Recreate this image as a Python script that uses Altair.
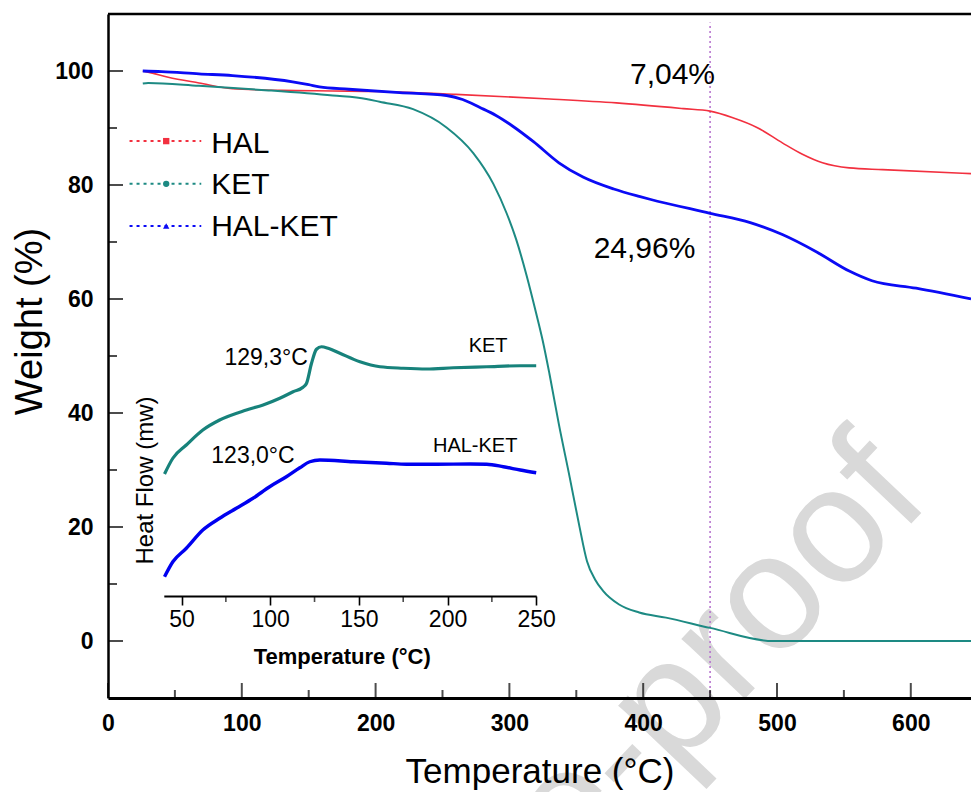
import altair as alt
import pandas as pd

FONT = "Liberation Sans"

# ---------------- TGA curves: temperature (°C) vs residual weight (%) ----------------
hal_temp = [26, 30, 45, 68, 93, 130, 168, 203, 260, 330, 380, 430, 450, 467, 485, 504, 519, 534, 554, 579, 645]
hal_weight = [100.0, 99.8, 98.9, 97.9, 96.9, 96.6, 96.5, 96.4, 95.9, 95.1, 94.4, 93.4, 92.96, 91.8, 90.1, 87.4,
              85.4, 83.9, 83.0, 82.7, 82.0]

ket_temp = [26, 30, 68, 120, 168, 193, 203, 228, 253, 273, 288, 298, 305, 313, 320, 325, 330, 337, 345, 352,
            358, 364, 370, 382, 397, 417, 450, 497, 645]
ket_weight = [97.8, 97.9, 97.4, 96.6, 95.7, 95.1, 94.6, 93.3, 90.1, 85.6, 80.2, 75.0, 70.5, 64.0, 57.5, 52.6,
              46.8, 38.0, 28.8, 20.5, 14.0, 10.8, 8.8, 6.4, 5.0, 4.1, 2.3, 0.0, 0.0]

halket_temp = [26, 40, 68, 93, 138, 150, 158, 180, 218, 253, 265, 278, 290, 302, 318, 337, 355, 378, 397, 405,
               450, 480, 504, 530, 554, 571, 604, 645]
halket_weight = [100.0, 99.9, 99.5, 99.2, 98.1, 97.6, 97.2, 96.8, 96.2, 95.7, 95.0, 93.6, 92.2, 90.4, 87.6, 83.9,
                 81.4, 79.3, 78.0, 77.5, 75.04, 73.4, 71.3, 68.2, 64.9, 63.2, 61.9, 60.0]

# ---------------- DSC inset: temperature (°C) vs heat flow (arbitrary mW units) ----------------
dsc_ket_temp = [40.4, 45.1, 52.7, 62.0, 71.5, 86.6, 96.0, 105.4, 112.9, 118.5, 120.5, 123.3, 126.1, 128.9,
                132.7, 139.3, 150.6, 161.9, 175.0, 188.2, 203.3, 222.1, 241.0, 250.0]
dsc_ket_flow = [4.88, 5.51, 6.04, 6.64, 7.04, 7.44, 7.64, 7.91, 8.17, 8.35, 8.51, 9.31, 9.87, 9.97, 9.91, 9.71,
                9.37, 9.17, 9.11, 9.08, 9.13, 9.17, 9.21, 9.21]

dsc_halket_temp = [40.4, 45.1, 52.7, 62.0, 71.5, 80.9, 90.3, 99.7, 109.1, 116.7, 122.3, 128.0, 146.8, 165.6,
                   176.9, 193.9, 212.7, 222.1, 231.5, 241.0, 250.0]
dsc_halket_flow = [0.77, 1.37, 1.91, 2.64, 3.11, 3.51, 3.91, 4.37, 4.77, 5.13, 5.37, 5.44, 5.37, 5.31, 5.27,
                   5.27, 5.28, 5.27, 5.17, 5.04, 4.93]

# ---------------- axis ticks ----------------
x_major = [0, 100, 200, 300, 400, 500, 600]
x_minor = [50, 150, 250, 350, 450, 550]
y_major = [0, 20, 40, 60, 80, 100]
y_minor = [10, 30, 50, 70, 90]
inset_major = [50, 100, 150, 200, 250]
inset_minor = [75, 125, 175, 225]

T_MIN, T_MAX = 0, 645
W_MIN, W_MAX = -10, 110

RED, TEAL, BLUE = "#f2303f", "#1d8a83", "#0b0bf5"

x_scale = alt.Scale(domain=[T_MIN, T_MAX], nice=False, zero=False)
y_scale = alt.Scale(domain=[W_MIN, W_MAX], nice=False, zero=False)

x_axis = alt.Axis(
    values=x_major, ticks=False, tickSize=0, grid=False, zindex=1,
    domainColor="black", domainWidth=3, labelFlush=False, labelOverlap=False,
    labelFont=FONT, labelFontSize=23, labelFontWeight="bold", labelColor="black", labelPadding=14,
    title="Temperature (°C)", titleFont=FONT, titleFontSize=35, titleFontWeight="normal",
    titleColor="black", titlePadding=19,
)
y_axis = alt.Axis(
    values=y_major, ticks=False, tickSize=0, grid=False, zindex=1,
    domainColor="black", domainWidth=2.5, labelFlush=False, labelOverlap=False,
    labelFont=FONT, labelFontSize=23, labelFontWeight="bold", labelColor="black", labelPadding=15,
    title="Weight (%)", titleFont=FONT, titleFontSize=38, titleFontWeight="normal", titleColor="black",
    titleX=-67, titleY=307, titleBaseline="alphabetic",
)


def X():
    return alt.X("T:Q", scale=x_scale, axis=x_axis)


def Y():
    return alt.Y("W:Q", scale=y_scale, axis=y_axis)


def frame(t, w):
    return pd.DataFrame({"T": t, "W": w})


# Watermark across the lower right
watermark = alt.Chart(frame([288.5], [-56.5])).mark_text(
    text="Journal Pre-proof", font=FONT, fontSize=165, color="#d9d9d9",
    angle=313.5, align="center", baseline="alphabetic",
).encode(x=X(), y=Y())

# Dotted marker at 450 °C
vline = alt.Chart(pd.DataFrame({"T": [450], "W": [W_MIN], "W2": [108.5]})).mark_rule(
    color="#b875cf", strokeWidth=1.6, strokeDash=[2, 3]
).encode(x=X(), y=Y(), y2="W2:Q")

curves = []
for t, w, col, sw in [(hal_temp, hal_weight, RED, 1.6),
                      (ket_temp, ket_weight, TEAL, 2.0),
                      (halket_temp, halket_weight, BLUE, 2.8)]:
    curves.append(
        alt.Chart(frame(t, w)).mark_line(color=col, strokeWidth=sw, interpolate="monotone")
        .encode(x=X(), y=Y())
    )

# Inward tick marks on the main axes
ticks = [
    alt.Chart(frame(x_major, [W_MIN] * len(x_major))).mark_tick(
        orient="vertical", size=15, thickness=2, yOffset=-7.5, color="black").encode(x=X(), y=Y()),
    alt.Chart(frame(x_minor, [W_MIN] * len(x_minor))).mark_tick(
        orient="vertical", size=8, thickness=2, yOffset=-4, color="black").encode(x=X(), y=Y()),
    alt.Chart(frame([T_MIN] * len(y_major), y_major)).mark_tick(
        orient="horizontal", size=15, thickness=2, xOffset=7.5, color="black").encode(x=X(), y=Y()),
    alt.Chart(frame([T_MIN] * len(y_minor), y_minor)).mark_tick(
        orient="horizontal", size=9, thickness=2, xOffset=4.5, color="black").encode(x=X(), y=Y()),
]

# Top frame line
top_line = alt.Chart(pd.DataFrame({"T": [T_MIN], "T2": [T_MAX], "W": [W_MAX]})).mark_rule(
    color="black", strokeWidth=2.5
).encode(x=X(), x2="T2:Q", y=Y())

# Mass-loss annotations
notes = alt.Chart(pd.DataFrame({
    "T": [421.9, 401.0], "W": [97.7, 67.2], "label": ["7,04%", "24,96%"]
})).mark_text(font=FONT, fontSize=30, color="black", align="center", baseline="alphabetic").encode(
    x=X(), y=Y(), text="label:N")

# Legend (dotted sample line + marker + name)
legend_names = ["HAL", "KET", "HAL-KET"]
legend_colors = [RED, TEAL, BLUE]
legend_shapes = ["square", "circle", "triangle-up"]
LEG_T0, LEG_T1, LEG_MARK, LEG_TEXT = 16.1, 69.7, 43.5, 77.1
LEG_ROWS = [87.7, 80.2, 72.8]
LEG_BASE = [85.7, 78.4, 71.1]

legend = []
for name, col, shp, row, base in zip(legend_names, legend_colors, legend_shapes, LEG_ROWS, LEG_BASE):
    legend.append(alt.Chart(pd.DataFrame({"T": [LEG_T0], "T2": [LEG_T1], "W": [row]})).mark_rule(
        color=col, strokeWidth=2, strokeDash=[3, 4]).encode(x=X(), x2="T2:Q", y=Y()))
    legend.append(alt.Chart(frame([LEG_MARK], [row])).mark_point(
        shape=shp, filled=True, color=col, size=40, opacity=1).encode(x=X(), y=Y()))
    legend.append(alt.Chart(pd.DataFrame({"T": [LEG_TEXT], "W": [base], "label": [name]})).mark_text(
        font=FONT, fontSize=30, color="black", align="left", baseline="alphabetic").encode(
        x=X(), y=Y(), text="label:N"))

main = alt.layer(watermark, vline, *curves, *ticks, top_line, notes, *legend)

# ---------------- DSC inset ----------------
ix_scale = alt.Scale(domain=[40, 250], range=[55.8, 428.2], nice=False, zero=False)
iy_scale = alt.Scale(domain=[0, 10], range=[582, 332], nice=False, zero=False)

ix_axis = alt.Axis(
    orient="bottom", offset=-102, values=inset_major, grid=False,
    domainColor="black", domainWidth=2, tickColor="black", tickSize=9, tickWidth=1.6,
    labelFlush=False, labelOverlap=False, labelFont=FONT, labelFontSize=23, labelColor="black",
    labelPadding=3, title="Temperature (°C)", titleFont=FONT, titleFontSize=22, titleFontWeight="bold",
    titleColor="black", titleX=233.7, titleY=67, titleBaseline="alphabetic",
)
iy_axis = alt.Axis(
    orient="left", domain=False, ticks=False, labels=False, grid=False,
    title="Heat Flow (mw)", titleFont=FONT, titleFontSize=24, titleFontWeight="normal", titleColor="black",
    titleX=44, titleY=466, titleBaseline="alphabetic",
)


def IX():
    return alt.X("t:Q", scale=ix_scale, axis=ix_axis)


def IY():
    return alt.Y("hf:Q", scale=iy_scale, axis=iy_axis)


def iframe(t, h):
    return pd.DataFrame({"t": t, "hf": h})


inset_curves = [
    alt.Chart(iframe(dsc_ket_temp, dsc_ket_flow)).mark_line(
        color="#17827b", strokeWidth=3.2, interpolate="monotone").encode(x=IX(), y=IY()),
    alt.Chart(iframe(dsc_halket_temp, dsc_halket_flow)).mark_line(
        color="#0000f0", strokeWidth=3.4, interpolate="monotone").encode(x=IX(), y=IY()),
]
inset_minor_ticks = alt.Chart(iframe(inset_minor, [0] * len(inset_minor))).mark_tick(
    orient="vertical", size=6, thickness=1.6, yOffset=3, color="black").encode(x=IX(), y=IY())

inset_temps = alt.Chart(pd.DataFrame({
    "t": [121.2, 113.8], "hf": [9.24, 5.32], "label": ["129,3°C", "123,0°C"]
})).mark_text(font=FONT, fontSize=23, color="black", align="right", baseline="alphabetic").encode(
    x=IX(), y=IY(), text="label:N")
inset_names = alt.Chart(pd.DataFrame({
    "t": [222.9, 215.6], "hf": [9.77, 5.77], "label": ["KET", "HAL-KET"]
})).mark_text(font=FONT, fontSize=20, color="black", align="center", baseline="alphabetic").encode(
    x=IX(), y=IY(), text="label:N")

inset = alt.layer(*inset_curves, inset_minor_ticks, inset_temps, inset_names)

chart = alt.layer(main, inset).resolve_scale(x="independent", y="independent").properties(
    width=863, height=684,
    padding={"left": 108, "top": 14, "right": 0, "bottom": 94},
    autosize=alt.AutoSizeParams(type="none"),
    background="white",
).configure_view(stroke=None)

chart.save("out.html", embed_options={"renderer": "svg", "actions": False})
